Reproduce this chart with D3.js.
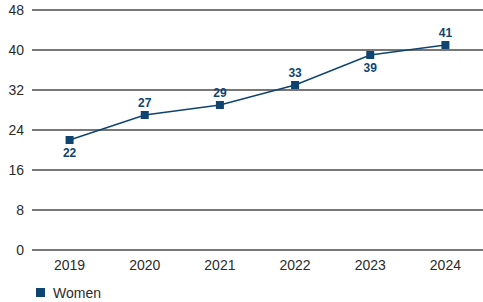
<!DOCTYPE html>
<html>
<head>
<meta charset="utf-8">
<script src="https://cdn.jsdelivr.net/npm/d3@7"></script>
<style>
  body { margin: 0; background: #fff; }
  svg { display: block; font-family: "Liberation Sans", Arial, sans-serif; }
</style>
</head>
<body>
<svg width="483" height="302"></svg>
<script>
var years = ["2019", "2020", "2021", "2022", "2023", "2024"];
var women = [22, 27, 29, 33, 39, 41];
var labelBelow = [true, false, false, false, true, false];
var yTicks = [0, 8, 16, 24, 32, 40, 48];

var svg = d3.select("svg");
var navy = "#0f4470";

var x = d3.scalePoint().domain(years).range([32, 483]).padding(0.5);
var y = d3.scaleLinear().domain([0, 48]).range([250, 10]);

// grid
svg.append("g").selectAll("line")
  .data(yTicks)
  .enter().append("line")
    .attr("x1", 32).attr("x2", 483)
    .attr("y1", function(d) { return y(d); })
    .attr("y2", function(d) { return y(d); })
    .style("stroke", "#4a4a4a")
    .style("stroke-width", 1.5);

svg.append("g").selectAll("text")
  .data(yTicks)
  .enter().append("text")
    .attr("x", 24).attr("y", function(d) { return y(d); })
    .attr("dy", "0.36em")
    .attr("text-anchor", "end")
    .style("font-size", "14px")
    .style("fill", "#2b2b2b")
    .text(function(d) { return d; });

svg.append("g").selectAll("text")
  .data(years)
  .enter().append("text")
    .attr("x", function(d) { return x(d); }).attr("y", 270)
    .attr("text-anchor", "middle")
    .style("font-size", "14px")
    .style("fill", "#2b2b2b")
    .text(function(d) { return d; });

var line = d3.line()
  .x(function(d, i) { return x(years[i]); })
  .y(function(d) { return y(d); });

svg.append("path")
  .datum(women)
  .attr("d", line)
  .style("fill", "none")
  .style("stroke", navy)
  .style("stroke-width", 1.5);

svg.append("g").selectAll("rect")
  .data(women)
  .enter().append("rect")
    .attr("x", function(d, i) { return x(years[i]) - 4; })
    .attr("y", function(d) { return y(d) - 4; })
    .attr("width", 8).attr("height", 8)
    .style("fill", navy);

svg.append("g").selectAll("text")
  .data(women)
  .enter().append("text")
    .attr("x", function(d, i) { return x(years[i]); })
    .attr("y", function(d, i) { return labelBelow[i] ? y(d) + 17 : y(d) - 8; })
    .attr("text-anchor", "middle")
    .style("font-size", "12px")
    .style("font-weight", "bold")
    .style("fill", navy)
    .text(function(d) { return d; });

// legend
svg.append("rect")
  .attr("x", 36).attr("y", 288).attr("width", 9).attr("height", 9)
  .style("fill", navy);
svg.append("text")
  .attr("x", 53).attr("y", 293)
  .attr("dy", "0.36em")
  .style("font-size", "14px")
  .style("fill", "#2b2b2b")
  .text("Women");
</script>
</body>
</html>
